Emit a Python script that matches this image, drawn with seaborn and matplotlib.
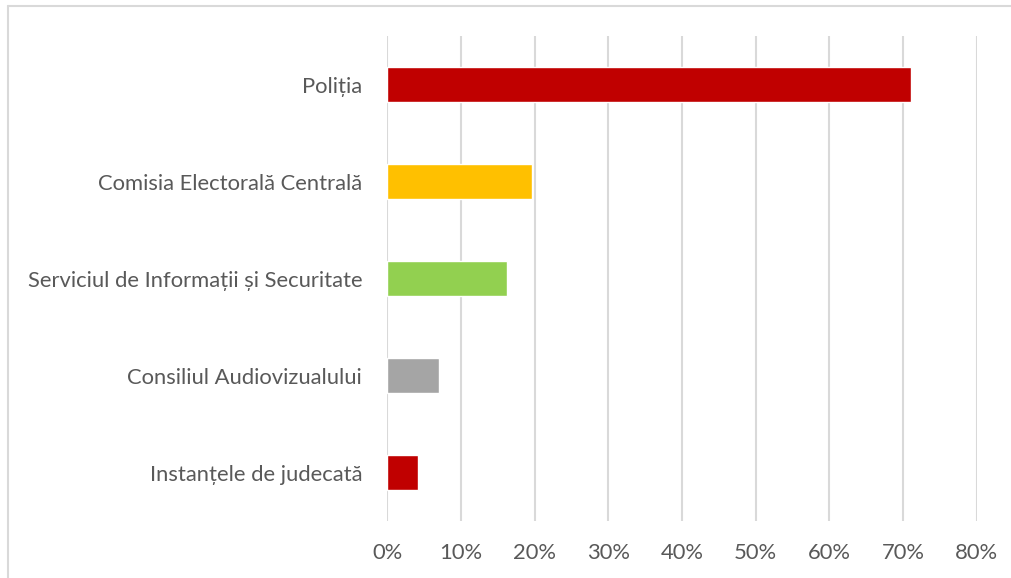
import pandas as pd
import matplotlib.pyplot as plt
import seaborn as sns
from matplotlib.lines import Line2D
from matplotlib.ticker import PercentFormatter

# date
institutii = ['Poliția', 'Comisia Electorală Centrală', 'Serviciul de Informații și Securitate',
              'Consiliul Audiovizualului', 'Instanțele de judecată']
procente = [0.711, 0.197, 0.162, 0.070, 0.042]
culori = ['#C00000', '#FFC000', '#92D050', '#A5A5A5', '#C00000']

df = pd.DataFrame({'Institutie': institutii, 'Procent': procente})

sns.set_theme(style='white')
plt.rcParams['font.family'] = ['Lato', 'DejaVu Sans']

fig = plt.figure(figsize=(10.11, 5.78), dpi=100)
ax = fig.add_axes([0.383, 0.0986, 0.966 - 0.383, 0.9377 - 0.0986])

sns.barplot(data=df, x='Procent', y='Institutie', hue='Institutie', palette=culori,
            orient='h', width=0.37, legend=False, ax=ax, saturation=1)

ax.set_xlim(0, 0.8)
ax.set_ylim(4.5, -0.5)
ax.set_xticks([i / 10 for i in range(9)])
ax.xaxis.set_major_formatter(PercentFormatter(1.0, decimals=0))
ax.grid(axis='x', color='#D9D9D9', linewidth=1.5)
ax.set_axisbelow(True)
for s in ax.spines.values():
    s.set_visible(False)
ax.set_xlabel('')
ax.set_ylabel('')
ax.tick_params(axis='both', length=0, labelsize=15.8, labelcolor='#595959')
ax.tick_params(axis='x', pad=16)
ax.tick_params(axis='y', pad=18)

# chenarul graficului
fig.add_artist(Line2D([8 / 1011, 1.0], [1 - 6 / 578, 1 - 6 / 578], transform=fig.transFigure,
                      color='#D9D9D9', linewidth=1.5))
fig.add_artist(Line2D([8 / 1011, 8 / 1011], [0, 1 - 6 / 578], transform=fig.transFigure,
                      color='#D9D9D9', linewidth=1.5))

plt.savefig('out.png', dpi=100)
